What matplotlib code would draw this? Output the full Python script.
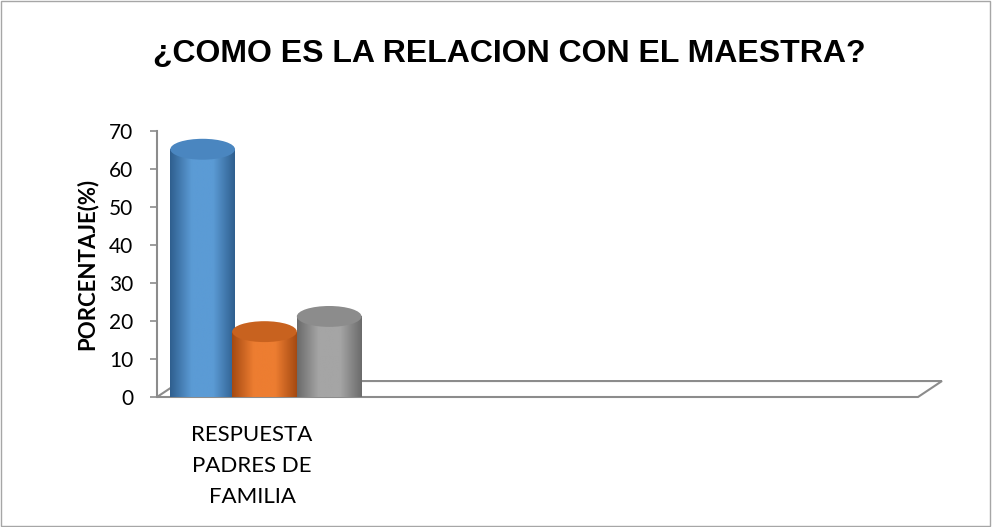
import numpy as np
import matplotlib
matplotlib.use('Agg')
import matplotlib.pyplot as plt
from matplotlib.patches import Rectangle, Ellipse, Polygon
from matplotlib.colors import LinearSegmentedColormap

# datos
categorias = ['RESPUESTA\nPADRES DE\nFAMILIA']
valores = [64, 16, 20]
colores = ['#5B9BD5', '#ED7D31', '#A5A5A5']
oscuros = ['#2F5F8F', '#A54A12', '#6B6B6B']
topes = ['#4A86C0', '#C8621F', '#8C8C8C']
yticks = [0, 10, 20, 30, 40, 50, 60, 70]

plt.rcParams['font.family'] = ['Lato', 'DejaVu Sans']

fig = plt.figure(figsize=(9.92, 5.27), dpi=100)
ax = fig.add_axes([157 / 992, 130 / 527, (918 - 157) / 992, 266 / 527])
ax.set_xlim(0, 4)
ax.set_ylim(0, 70)

ancho = 0.34
desp = [-0.26, 0.065, 0.405]
elip_h = 5.5

for i, v in enumerate(valores):
    xc = 0.5 + desp[i]
    x0 = xc - ancho / 2
    cmap = LinearSegmentedColormap.from_list('g', [oscuros[i], colores[i], colores[i], oscuros[i]])
    grad = np.linspace(0, 1, 200).reshape(1, -1)
    cuerpo = Rectangle((x0, 0), ancho, v + 1.2, facecolor='none', edgecolor='none')
    ax.add_patch(cuerpo)
    im = ax.imshow(grad, extent=[x0, x0 + ancho, 0, v + 1.2], aspect='auto', cmap=cmap, zorder=2 + i)
    im.set_clip_path(cuerpo)
    base = Ellipse((xc, 0), ancho, elip_h * 0.6, facecolor='none', edgecolor='none')
    ax.add_patch(base)
    im2 = ax.imshow(grad, extent=[x0, x0 + ancho, -2, 2], aspect='auto', cmap=cmap, zorder=2 + i)
    im2.set_clip_path(base)
    tope = Ellipse((xc, v + 1.2), ancho, elip_h, facecolor=topes[i], edgecolor='none', zorder=2.5 + i)
    ax.add_patch(tope)

# piso 3D
piso = Polygon([[0, 0], [4, 0], [4.126, 4.2], [0.126, 4.2]], closed=True, fill=False,
               edgecolor='#8C8C8C', linewidth=1.5, zorder=1, clip_on=False)
ax.add_patch(piso)

ax.set_xlim(0, 4)
ax.set_ylim(0, 70)
for s in ['top', 'right', 'bottom']:
    ax.spines[s].set_visible(False)
ax.spines['left'].set_color('#8C8C8C')
ax.spines['left'].set_linewidth(1.5)
ax.set_yticks(yticks)
ax.tick_params(axis='y', colors='#8C8C8C', labelcolor='black', labelsize=15, length=5, width=1.2, pad=12)
ax.set_xticks([0.5])
ax.set_xticklabels(categorias, fontsize=16, linespacing=1.68)
ax.tick_params(axis='x', length=0, pad=20)
ax.set_ylabel('PORCENTAJE(%)', fontsize=16, fontweight='bold', labelpad=8)
ax.patch.set_alpha(0)

fig.text(0.513, 0.897, '¿COMO ES LA RELACION CON EL MAESTRA?', ha='center', va='center',
         fontsize=23, fontweight='bold', family=['Liberation Sans', 'DejaVu Sans'])

fig.patches.append(Rectangle((0.001, 0.001), 0.997, 0.997, transform=fig.transFigure,
                             fill=False, edgecolor='#A6A6A6', linewidth=1))

fig.savefig('out.png', dpi=100)
